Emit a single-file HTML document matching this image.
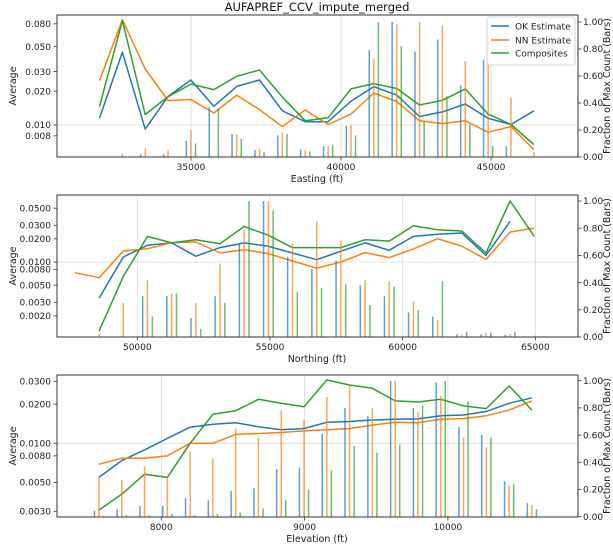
<!DOCTYPE html>
<html><head><meta charset="utf-8"><style>
html,body{margin:0;padding:0;background:#fff;}
svg{display:block;font-family:"DejaVu Sans","Liberation Sans",sans-serif;}
</style></head><body>
<svg id="chart" width="613" height="549" viewBox="0 0 613 549"></svg>
<script>
// ---- Panel 1: Easting ----
const east = [31950,32712,33474,34236,34998,35760,36522,37284,38046,38808,39570,40332,41094,41856,42618,43380,44142,44904,45666,46428];
const ok1 = [0.01155,0.0446,0.0092,0.018,0.0252,0.0147,0.0221,0.0252,0.0134,0.0107,0.0107,0.0163,0.022,0.0185,0.0119,0.0131,0.0154,0.01147,0.0101,0.0134];
const nn1 = [0.0249,0.0871,0.0316,0.0165,0.0169,0.0128,0.0185,0.0137,0.0097,0.0136,0.0101,0.0125,0.0193,0.0162,0.0109,0.0103,0.0109,0.0086,0.0097,0.00603];
const comp1 = [0.0146,0.0855,0.0124,0.0179,0.0232,0.0207,0.0272,0.031,0.0177,0.0109,0.0116,0.021,0.0234,0.0212,0.0151,0.0166,0.021,0.0125,0.0101,0.0067];
const bOk1 = [0,0,0.02,0.02,0.12,0.37,0.17,0.05,0.16,0.055,0.08,0.23,0.79,1.0,0.78,0.87,0.53,0.72,0.08,0];
const bNn1 = [0,0.025,0.066,0.05,0.2,0,0.17,0.06,0.18,0.05,0.08,0.24,0.73,0.985,1.0,0.975,0.71,0.9,0.44,0.04];
const bComp1 = [0,0,0,0,0.1,0.36,0.135,0.035,0.17,0.04,0.09,0.16,1.0,0.82,0.26,0.45,0.24,0.08,0.005,0];
const xt1 = [35000,40000,45000];
const yt1 = [0.08,0.05,0.03,0.02,0.01,0.008];
const yl1 = ["0.080","0.050","0.030","0.020","0.010","0.008"];
// ---- Panel 2: Northing ----
const north = [47650,48561,49472,50383,51294,52205,53116,54027,54938,55849,56760,57671,58582,59493,60404,61315,62226,63137,64048,64959];
const ok2 = [null,0.0034,0.0116,0.0165,0.0177,0.0119,0.0154,0.0177,0.016,0.0131,0.0107,0.0138,0.0177,0.0142,0.0215,0.0229,0.0238,0.0122,0.0337,null];
const nn2 = [0.00727,0.00626,0.0139,0.0149,0.0178,0.0182,0.0131,0.01445,0.0128,0.0103,0.0083,0.01,0.01323,0.0114,0.0148,0.0201,0.0161,0.0108,0.0245,0.0276];
const comp2 = [null,0.00127,0.0065,0.0215,0.0177,0.0195,0.0173,0.029,0.0222,0.0154,0.0154,0.0154,0.0195,0.0187,0.0296,0.0263,0.0253,0.0131,0.062,0.0215];
const bOk2 = [0,0,0,0.30,0.30,0.14,0.30,0.68,1.0,0.59,0.50,0.56,0.38,0.30,0.18,0.15,0.02,0.02,0.015,0];
const bNn2 = [0,0.02,0.25,0.42,0.32,0.25,0.54,0.79,1.0,0.69,0.85,0.71,0.42,0.41,0.26,0.125,0.02,0.03,0.02,0.01];
const bComp2 = [0,0,0,0.15,0.32,0.06,0.25,1.0,0.93,0.33,0.36,0.39,0.235,0.37,0.20,0.41,0.04,0.03,0.04,0];
const xt2 = [50000,55000,60000,65000];
const yt2 = [0.05,0.03,0.02,0.01,0.008,0.005,0.003,0.002];
const yl2 = ["0.0500","0.0300","0.0200","0.0100","0.0080","0.0050","0.0030","0.0020"];
// ---- Panel 3: Elevation ----
const elev = [7565,7724,7883,8042,8201,8360,8519,8678,8837,8996,9155,9314,9473,9632,9791,9950,10109,10268,10427,10586];
const ok3 = [0.00547,0.00736,0.0089,0.0109,0.0133,0.014,0.0144,0.0134,0.0127,0.013,0.0145,0.0147,0.0151,0.0153,0.0154,0.0163,0.0165,0.0176,0.0203,0.0224];
const nn3 = [0.0069,0.00767,0.00767,0.008,0.01,0.01,0.0117,0.0119,0.0121,0.01245,0.0127,0.013,0.0138,0.0145,0.0144,0.0153,0.0155,0.0163,0.018,0.0212];
const comp3 = [0.00307,0.00405,0.00578,0.00547,0.01,0.0167,0.0178,0.0218,0.0203,0.0191,0.0307,0.0281,0.0265,0.0212,0.0208,0.0218,0.0194,0.0185,0.0276,0.018];
const bOk3 = [0.045,0.055,0.08,0.08,0.135,0.12,0.19,0.21,0.35,0.36,0.61,0.80,0.74,1.0,0.80,0.985,0.66,0.60,0.26,0.10];
const bNn3 = [0.29,0.27,0.37,0.30,0.48,0.43,0.65,0.58,0.78,0.71,0.88,0.97,0.80,1.0,0.77,0.89,0.58,0.51,0.23,0.085];
const bComp3 = [0.005,0.01,0.01,0.02,0.01,0.02,0.03,0.06,0.12,0.20,0.34,0.52,0.47,0.53,0.82,1.0,0.85,0.58,0.24,0.056];
const xt3 = [8000,9000,10000];
const yt3 = [0.03,0.02,0.01,0.008,0.005,0.003];
const yl3 = ["0.0300","0.0200","0.0100","0.0080","0.0050","0.0030"];
const fracTicks = [0,0.2,0.4,0.6,0.8,1.0];

const NS = "http://www.w3.org/2000/svg";
const svg = document.getElementById('chart');
const C = {ok:'#1f77b4', nn:'#ff7f0e', comp:'#2ca02c'};
function el(tag, attrs, parent){const e=document.createElementNS(NS,tag);for(const k in attrs)e.setAttribute(k,attrs[k]);(parent||svg).appendChild(e);return e;}

function panel(cfg){
  const g = el('g',{});
  
  
  const X = v => cfg.x0px + (v - cfg.x0) * cfg.xs;
  const Y = v => cfg.y01 - (Math.log10(v) + 2) * cfg.dec;
  const F = f => cfg.b0 - f * (cfg.b0 - cfg.b1);
  cfg.xt.forEach(t => {
    const l = el('line',{x1:X(t),x2:X(t),y1:cfg.top,y2:cfg.bot,stroke:'#dcdcdc','stroke-width':0.8},g);
    
    
  });
  const hg = el('line',{x1:57,x2:578,y1:Y(0.01),y2:Y(0.01),stroke:'#dcdcdc','stroke-width':0.8},g);
  
  
  const series = [[cfg.ok,C.ok,'ok-estimate-line'],[cfg.nn,C.nn,'nn-estimate-line'],[cfg.comp,C.comp,'composites-line']];
  series.forEach(([arr,col,nm]) => {
    let d=''; let pen=false;
    arr.forEach((v,i)=>{ if(v==null){pen=false;return;} d += (pen?'L':'M') + X(cfg.xs_data[i]).toFixed(1) + ',' + Y(v).toFixed(1); pen=true; });
    const p = el('path',{d:d,fill:'none',stroke:col,'stroke-width':1.5,'stroke-linejoin':'round'},g);
    
    
  });
  const step = cfg.xs_data[1]-cfg.xs_data[0];
  const bars = [[cfg.bOk,C.ok,-0.2],[cfg.bNn,C.nn,0],[cfg.bComp,C.comp,0.2]];
  bars.forEach(([arr,col,off]) => {
    arr.forEach((f,i)=>{
      if(f<=0) return;
      const x = X(cfg.xs_data[i] + off*step);
      const r = el('rect',{x:(x-0.75).toFixed(1),y:F(f).toFixed(1),width:1.5,height:(cfg.b0-F(f)).toFixed(1),fill:col,'fill-opacity':0.7},g);
      
      
    });
  });
  const fr = el('rect',{x:57,y:cfg.top,width:521,height:cfg.bot-cfg.top,fill:'none',stroke:'#333','stroke-width':1},g);
  
  
  cfg.xt.forEach(t => {
    el('line',{x1:X(t),x2:X(t),y1:cfg.bot,y2:cfg.bot+3.5,stroke:'#333','stroke-width':0.8},g);
    const tx = el('text',{x:X(t),y:cfg.bot+13,'font-size':9,'text-anchor':'middle',fill:'#222'},g);
    tx.textContent = t;
    
    
  });
  cfg.yt.forEach((t,i) => {
    el('line',{x1:53.5,x2:57,y1:Y(t),y2:Y(t),stroke:'#333','stroke-width':0.8},g);
    const tx = el('text',{x:51,y:Y(t)+3.2,'font-size':9,'text-anchor':'end',fill:'#222'},g);
    tx.textContent = cfg.yl[i];
    
    
  });
  fracTicks.forEach(t => {
    el('line',{x1:578,x2:581.5,y1:F(t),y2:F(t),stroke:'#333','stroke-width':0.8},g);
    const tx = el('text',{x:583,y:F(t)+3.2,'font-size':9,fill:'#222'},g);
    tx.textContent = t.toFixed(2);
    
    
  });
  const xl = el('text',{x:317,y:cfg.bot+25,'font-size':9.5,'text-anchor':'middle',fill:'#222'},g);
  xl.textContent = cfg.xlabel;
  
  
  const cy=(cfg.top+cfg.bot)/2;
  const yl = el('text',{x:16,y:cy,'font-size':9.5,'text-anchor':'middle',fill:'#222',transform:`rotate(-90 16 ${cy})`},g);
  yl.textContent = 'Average';
  
  
  const ry = el('text',{x:610,y:cy,'font-size':9.5,'text-anchor':'middle',fill:'#222',transform:`rotate(-90 610 ${cy})`},g);
  ry.textContent = 'Fraction of Max Count (Bars)';
  
  
}

panel({name:'easting-panel',xs_data:east,ok:ok1,nn:nn1,comp:comp1,bOk:bOk1,bNn:bNn1,bComp:bComp1,xt:xt1,yt:yt1,yl:yl1,
  x0:35000,x0px:191,xs:150/5000,y01:125,dec:112,top:15,bot:157,b0:157,b1:22,xlabel:'Easting (ft)'});
panel({name:'northing-panel',xs_data:north,ok:ok2,nn:nn2,comp:comp2,bOk:bOk2,bNn:bNn2,bComp:bComp2,xt:xt2,yt:yt2,yl:yl2,
  x0:50000,x0px:137.3,xs:132.7/5000,y01:262,dec:77,top:195,bot:337,b0:337,b1:201,xlabel:'Northing (ft)'});
panel({name:'elevation-panel',xs_data:elev,ok:ok3,nn:nn3,comp:comp3,bOk:bOk3,bNn:bNn3,bComp:bComp3,xt:xt3,yt:yt3,yl:yl3,
  x0:8000,x0px:161.3,xs:143.3/1000,y01:443.3,dec:130,top:375,bot:517,b0:516.7,b1:380.7,xlabel:'Elevation (ft)'});

const title = el('text',{x:317,y:11,'font-size':11.5,'text-anchor':'middle',fill:'#111'});
title.textContent = 'AUFAPREF_CCV_impute_merged';



const lg = el('g',{});


el('rect',{x:487,y:17,width:88,height:48,rx:2,fill:'#fff','fill-opacity':0.85,stroke:'#ccc','stroke-width':0.8},lg);
[['OK Estimate',C.ok,26],['NN Estimate',C.nn,40],['Composites',C.comp,53]].forEach(([t,c,y])=>{
  const e = el('g',{},lg);
  
  
  el('line',{x1:491,x2:509,y1:y,y2:y,stroke:c,'stroke-width':1.5},e);
  const tx = el('text',{x:515,y:y+3.3,'font-size':9,fill:'#222'},e);
  tx.textContent = t;
});
</script>
</body></html>
